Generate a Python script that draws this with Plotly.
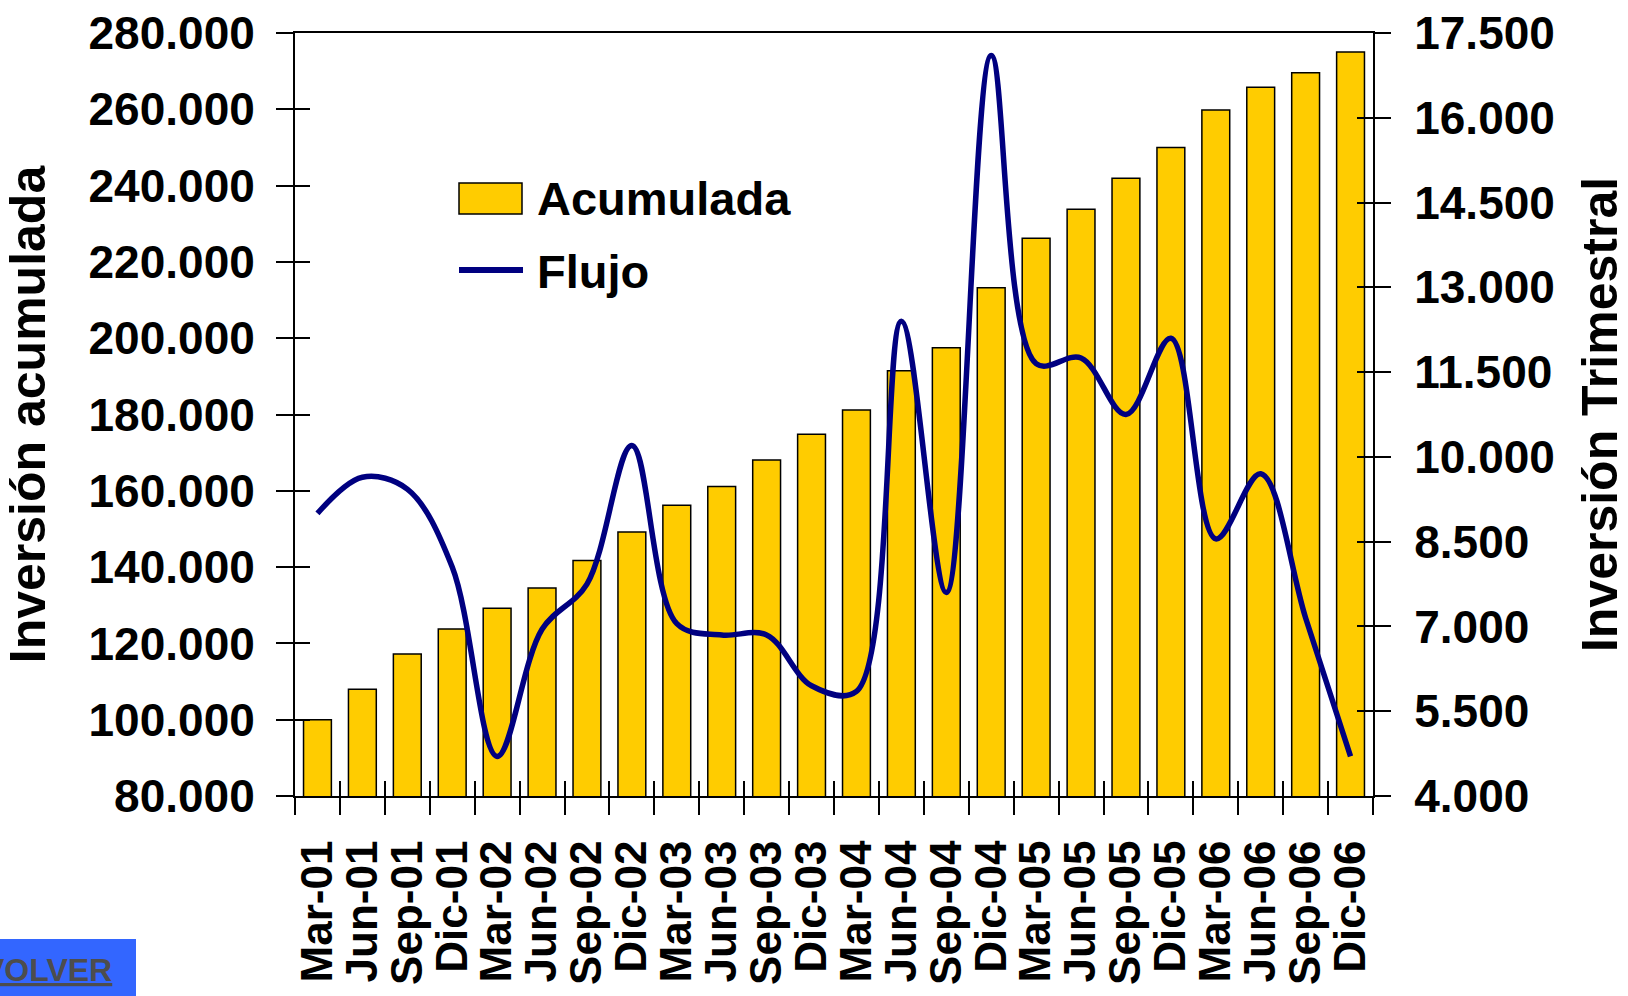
import plotly.graph_objects as go

categories = ["Mar-01", "Jun-01", "Sep-01", "Dic-01", "Mar-02", "Jun-02", "Sep-02", "Dic-02",
              "Mar-03", "Jun-03", "Sep-03", "Dic-03", "Mar-04", "Jun-04", "Sep-04", "Dic-04",
              "Mar-05", "Jun-05", "Sep-05", "Dic-05", "Mar-06", "Jun-06", "Sep-06", "Dic-06"]
acumulada = [100000, 108000, 117200, 123800, 129200, 134500, 141700, 149200,
             156200, 161100, 168100, 174800, 181200, 191500, 197500, 213200,
             226200, 233800, 241900, 250000, 259800, 265800, 269600, 275000]
flujo = [9000, 9640, 9430, 8050, 4700, 6950, 7750, 10200,
         7050, 6850, 6850, 5950, 5850, 12400, 7600, 17100,
         11650, 11750, 10750, 12100, 8550, 9700, 7150, 4700]

left_ticks = [80000, 280000, 20000]
right_ticks = [4000, 17500, 1500]

W, H = 1628, 996
L, R, T, B = 295, 255, 33, 200
PW, PH = W - L - R, H - T - B
FONT = "Liberation Sans, Arial, sans-serif"


def px(x):
    return (x - L) / PW


def py(y):
    return (H - B - y) / PH


fig = go.Figure()
fig.add_trace(go.Bar(x=categories, y=acumulada, name="Acumulada",
                     marker=dict(color="#FFCC00", line=dict(color="black", width=1.5)),
                     xaxis="x", yaxis="y", showlegend=False))
fig.add_trace(go.Scatter(x=categories, y=flujo, name="Flujo", mode="lines",
                         line=dict(color="#000080", width=5.5, shape="spline", smoothing=1),
                         xaxis="x", yaxis="y2", showlegend=False))
# invisible helpers so that the tick-overlay axes exist
fig.add_trace(go.Scatter(x=categories, y=[None] * len(categories), xaxis="x2", yaxis="y3",
                         showlegend=False, hoverinfo="skip"))
fig.add_trace(go.Scatter(x=categories, y=[None] * len(categories), xaxis="x2", yaxis="y4",
                         showlegend=False, hoverinfo="skip"))

tickfont = dict(family=FONT, size=46, color="black", weight="bold")
titlefont = dict(family=FONT, size=50, color="black", weight="bold")

fig.update_layout(
    width=W, height=H,
    margin=dict(l=L, r=R, t=T, b=B, autoexpand=False),
    paper_bgcolor="white", plot_bgcolor="white",
    separators=",.",
    showlegend=False,
    bargap=0.38,
    font=dict(family=FONT, color="black"),
    xaxis=dict(type="category", categoryorder="array", categoryarray=categories,
               range=[-0.5, len(categories) - 0.5], tickson="boundaries",
               tickmode="linear", tick0=0, dtick=1,
               ticks="outside", ticklen=17, tickwidth=2, tickcolor="black",
               showline=True, linecolor="black", linewidth=2, mirror=True,
               tickangle=-90, ticklabelstandoff=25,
               tickfont=dict(family=FONT, size=44, color="black", weight="bold"),
               showgrid=False, zeroline=False),
    xaxis2=dict(type="category", categoryorder="array", categoryarray=categories,
                range=[-0.5, len(categories) - 0.5], tickson="boundaries",
                tickmode="linear", tick0=0, dtick=1,
                overlaying="x", anchor="y", side="bottom",
                ticks="inside", ticklen=15, tickwidth=2, tickcolor="black",
                showticklabels=False, showline=False, showgrid=False, zeroline=False),
    yaxis=dict(range=left_ticks[:2], tick0=left_ticks[0], dtick=left_ticks[2], tickformat=",d",
               ticks="outside", ticklen=17, tickwidth=2, tickcolor="black",
               showline=True, linecolor="black", linewidth=2, ticklabelstandoff=12,
               tickfont=tickfont, showgrid=False, zeroline=False,
               title=dict(text="Inversión acumulada", standoff=28, font=titlefont)),
    yaxis3=dict(range=left_ticks[:2], tick0=left_ticks[0], dtick=left_ticks[2],
                overlaying="y", side="left", anchor="x",
                ticks="inside", ticklen=15, tickwidth=2, tickcolor="black",
                showticklabels=False, showline=False, showgrid=False, zeroline=False),
    yaxis2=dict(range=right_ticks[:2], tick0=right_ticks[0], dtick=right_ticks[2], tickformat=",d",
                overlaying="y", side="right", anchor="x",
                ticks="outside", ticklen=16, tickwidth=2, tickcolor="black",
                showline=True, linecolor="black", linewidth=2, ticklabelstandoff=14,
                tickfont=tickfont, showgrid=False, zeroline=False,
                title=dict(text="Inversión Trimestral", standoff=36, font=titlefont)),
    yaxis4=dict(range=right_ticks[:2], tick0=right_ticks[0], dtick=right_ticks[2],
                overlaying="y", side="right", anchor="x",
                ticks="inside", ticklen=16, tickwidth=2, tickcolor="black",
                showticklabels=False, showline=False, showgrid=False, zeroline=False),
)

# custom legend
fig.add_shape(type="rect", xref="paper", yref="paper",
              x0=px(459), x1=px(522), y0=py(214), y1=py(183),
              fillcolor="#FFCC00", line=dict(color="black", width=1.5))
fig.add_shape(type="line", xref="paper", yref="paper",
              x0=px(459), x1=px(523), y0=py(270), y1=py(270),
              line=dict(color="#000080", width=6))
fig.add_annotation(text="Acumulada", xref="paper", yref="paper", x=px(535), y=py(199),
                   xanchor="left", yanchor="middle", showarrow=False,
                   font=dict(family=FONT, size=47, color="black", weight="bold"))
fig.add_annotation(text="Flujo", xref="paper", yref="paper", x=px(535), y=py(271),
                   xanchor="left", yanchor="middle", showarrow=False,
                   font=dict(family=FONT, size=47, color="black", weight="bold"))

# "VOLVER" button
fig.add_shape(type="rect", xref="paper", yref="paper",
              x0=px(-5), x1=px(136), y0=py(1001), y1=py(939),
              fillcolor="#3366FF", line=dict(width=0))
fig.add_annotation(text='<span style="text-decoration:underline">VOLVER</span>',
                   xref="paper", yref="paper", x=px(114), y=py(970),
                   xanchor="right", yanchor="middle", showarrow=False,
                   font=dict(family=FONT, size=32, color="#4D4D4D", weight="bold"))

fig.write_html("out.html", config={"displayModeBar": False})

# remove the browser's default page margin so the figure starts at (0, 0)
with open("out.html", encoding="utf-8") as f:
    html = f.read()
html = html.replace("<head>", "<head><style>html,body{margin:0;padding:0;overflow:hidden;}</style>", 1)
with open("out.html", "w", encoding="utf-8") as f:
    f.write(html)
